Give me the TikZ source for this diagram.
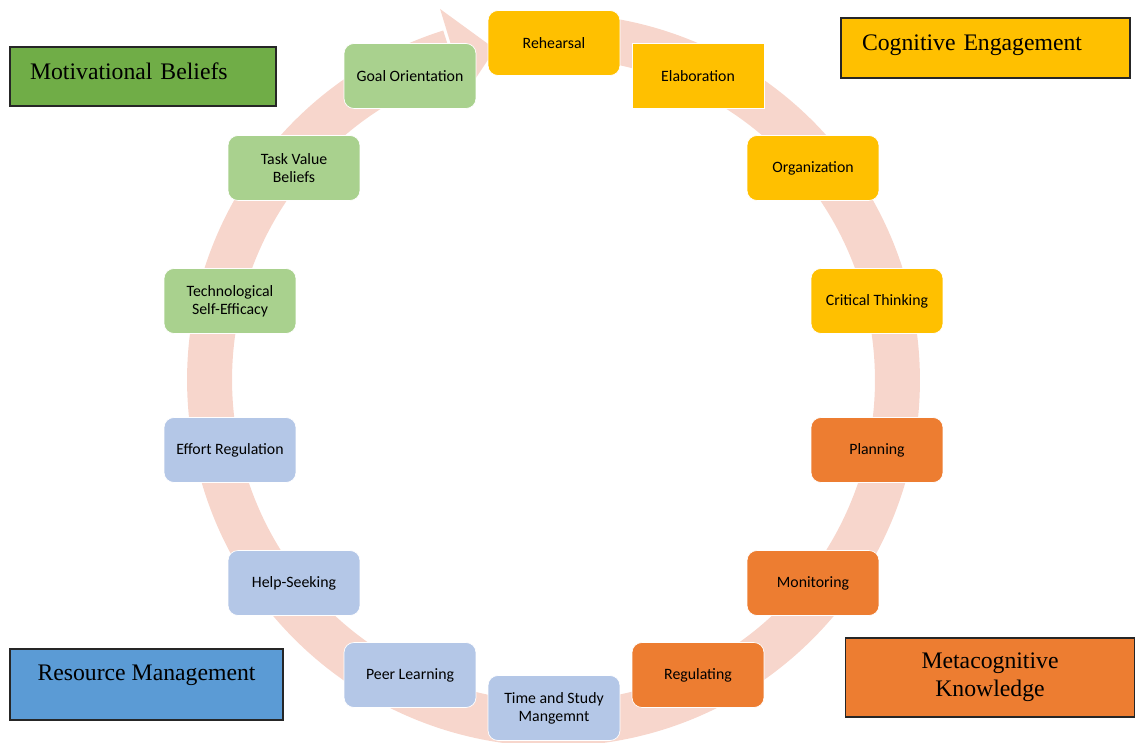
\documentclass[tikz,border=0pt]{standalone}
\usepackage{fontspec}
\setmainfont{Liberation Serif}
\newfontfamily\boxfont{Carlito}
\usetikzlibrary{calc}
\definecolor{ringpink}{HTML}{F7D6CC}
\definecolor{cogyellow}{HTML}{FFC000}
\definecolor{metaorange}{HTML}{ED7D31}
\definecolor{motlight}{HTML}{A9D18E}
\definecolor{reslight}{HTML}{B4C7E7}
\definecolor{motgreen}{HTML}{70AD47}
\definecolor{resblue}{HTML}{5B9BD5}
\begin{document}
\begin{tikzpicture}[x=0.02cm,y=0.02cm,
	item/.style={rounded corners=0.2cm,draw=white,line width=0.4pt,minimum width=2.64cm,minimum height=1.3cm,align=center,inner sep=1pt,font=\boxfont\fontsize{9}{10.2}\selectfont},
	group/.style={draw=black!85,line width=0.8pt,font=\fontsize{13.5}{15.8}\selectfont}]
	\useasboundingbox (0,0) rectangle (1136,-743);
	% circular arrow
	\coordinate (ctr) at (553.5,-380);
	\draw[ringpink,line width=0.9cm] (ctr) ++(95:344) arc[start angle=95,end angle=-252.5,radius=6.88cm];
	\fill[ringpink] ($(ctr)+(107:388)$) -- ($(ctr)+(100:336)$) -- ($(ctr)+(107:300)$) -- cycle;
	% cognitive engagement
	\node[item,fill=cogyellow](rehearsal) at (554,-43){Rehearsal};
	\node[item,fill=cogyellow,sharp corners](elaboration) at (698,-76){Elaboration};
	\node[item,fill=cogyellow](organization) at (813,-168){Organization};
	\node[item,fill=cogyellow](critical) at (877,-301){Critical Thinking};
	% metacognitive knowledge
	\node[item,fill=metaorange](planning) at (877,-450){Planning};
	\node[item,fill=metaorange](monitoring) at (813,-583){Monitoring};
	\node[item,fill=metaorange](regulating) at (698,-675){Regulating};
	% resource management
	\node[item,fill=reslight](timestudy) at (554,-708){Time and Study\\Mangemnt};
	\node[item,fill=reslight](peer) at (410,-675){Peer Learning};
	\node[item,fill=reslight](help) at (294,-583){Help-Seeking};
	\node[item,fill=reslight](effort) at (230,-450){Effort Regulation};
	% motivational beliefs
	\node[item,fill=motlight](techeff) at (230,-301){Technological\\Self-Efficacy};
	\node[item,fill=motlight](taskvalue) at (294,-168){Task Value\\Beliefs};
	\node[item,fill=motlight](goal) at (410,-76){Goal Orientation};
	% group labels
	\node[group,fill=motgreen,minimum width=5.32cm,minimum height=1.18cm,text width=4.52cm,inner xsep=0.4cm,align=left,text height=0.33cm,text depth=0.22cm](motiv) at (143,-76.5){Motivational Beliefs};
	\node[group,fill=cogyellow,minimum width=5.78cm,minimum height=1.2cm,text width=4.94cm,inner xsep=0.42cm,align=left,text height=0.36cm,text depth=0.25cm](cogeng) at (985.5,-48){Cognitive Engagement};
	\node[group,fill=resblue,minimum width=5.46cm,minimum height=1.42cm,text height=0.33cm,text depth=0.49cm](resman) at (146.5,-684.5){Resource Management};
	\node[group,fill=metaorange,minimum width=5.78cm,minimum height=1.58cm,align=center,inner ysep=0.1cm](metaknow) at (990,-677.5){\rule{0pt}{0.3cm}Metacognitive\\Knowledge};
\end{tikzpicture}
\end{document}
